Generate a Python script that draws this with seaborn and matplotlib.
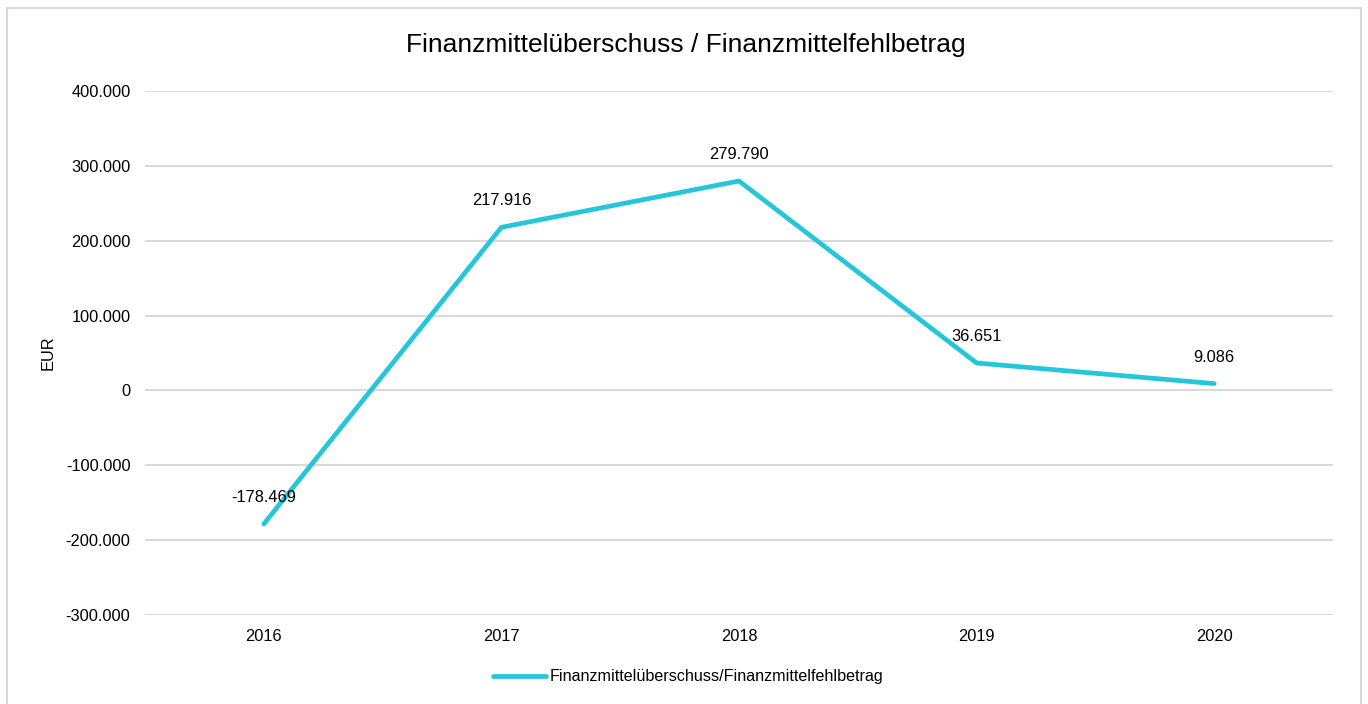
import pandas as pd
import seaborn as sns
import matplotlib.pyplot as plt
from matplotlib.ticker import FuncFormatter, MultipleLocator
from matplotlib.patches import Rectangle

# values
years = ['2016', '2017', '2018', '2019', '2020']
values = [-178469, 217916, 279790, 36651, 9086]
series_name = 'Finanzmittelüberschuss/Finanzmittelfehlbetrag'
title = 'Finanzmittelüberschuss / Finanzmittelfehlbetrag'

df = pd.DataFrame({'Jahr': years, 'Wert': values})

sns.set_style('white')
plt.rcParams['font.family'] = ['Liberation Sans', 'DejaVu Sans']
plt.rcParams['text.color'] = '#000000'
plt.rcParams['axes.labelcolor'] = '#000000'

line_color = '#26C6DA'
grid_color = '#D9D9D9'


def de_fmt(v, pos=None):
    return f'{v:,.0f}'.replace(',', '.')


fig = plt.figure(figsize=(13.68, 7.04), dpi=100)
ax = fig.add_axes([145 / 1368, 1 - 615 / 704, 1188 / 1368, 524 / 704])

sns.lineplot(data=df, x='Jahr', y='Wert', ax=ax, color=line_color,
             linewidth=3.4, label=series_name, sort=False,
             solid_capstyle='round')

ax.set_ylim(-300000, 400000)
ax.set_xlim(-0.5, 4.5)
ax.yaxis.set_major_locator(MultipleLocator(100000))
ax.yaxis.set_major_formatter(FuncFormatter(de_fmt))
ax.grid(axis='y', color=grid_color, linewidth=1.5)
ax.set_axisbelow(True)
for s in ax.spines.values():
    s.set_visible(False)
ax.tick_params(axis='both', length=0, labelsize=11.8, colors='#000000', pad=10.5)
ax.tick_params(axis='x', pad=10)
ax.set_xlabel('')
ax.set_ylabel('EUR', fontsize=11.8, labelpad=7)

# data labels above each point
for i, v in enumerate(values):
    ax.annotate(de_fmt(v), (i, v), xytext=(0, 19), textcoords='offset points',
                ha='center', va='center', fontsize=11.8)

ax.get_legend().remove()
handles, labels = ax.get_legend_handles_labels()
fig.legend(handles, labels, loc='center', bbox_to_anchor=(688 / 1368, 1 - 677 / 704),
           frameon=False, fontsize=11.6, handlelength=3.3, handletextpad=0.25)

fig.text(686 / 1368, 1 - 45 / 704, title, ha='center', va='center', fontsize=19)

# light frame around the chart area
fig.patches.append(Rectangle((7 / 1368, -0.02), 1354 / 1368, 1.02 - 8 / 704,
                             transform=fig.transFigure, fill=False,
                             edgecolor=grid_color, linewidth=1.5))

fig.savefig('out.png', dpi=100)
